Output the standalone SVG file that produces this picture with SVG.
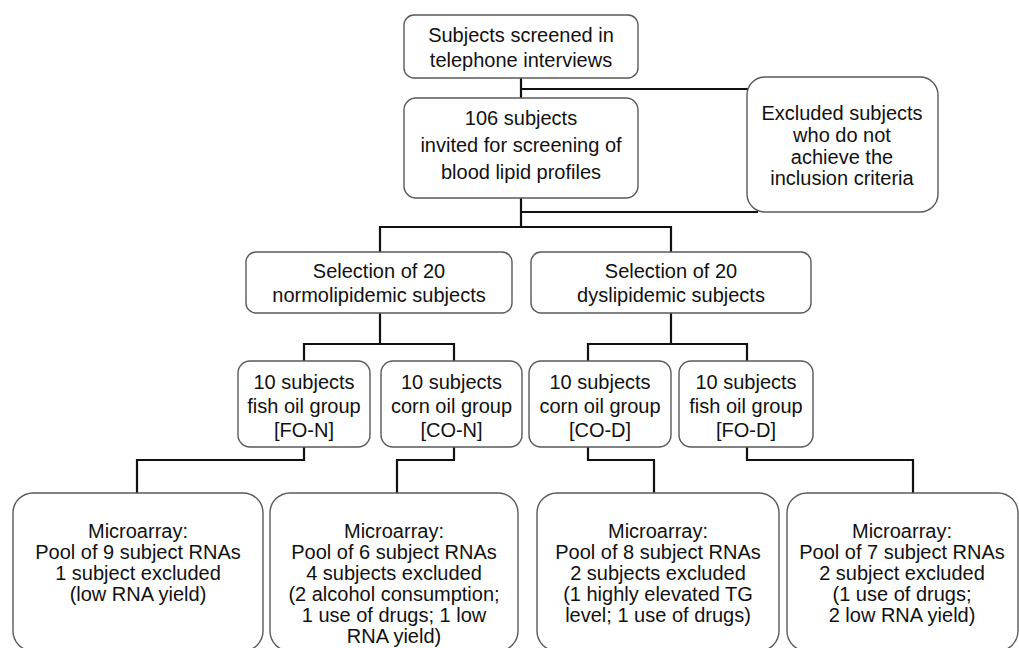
<svg xmlns="http://www.w3.org/2000/svg" width="1019" height="648" viewBox="0 0 1019 648">
<style>
.box{fill:#fff;stroke:#595959;stroke-width:1.4}
.t{font-family:"Liberation Sans",Arial,sans-serif;font-size:20px;fill:#111;text-anchor:middle}
.c{fill:none;stroke:#111;stroke-width:2.2}
</style>
<rect width="1019" height="648" fill="#fff"/>
<g id="connectors">
<path class="c" d="M521 78V227M521 89H748M521 212H758"/>
<path class="c" d="M380 252V227H671V252"/>
<path class="c" d="M380 313V344M304 361V344H454V361"/>
<path class="c" d="M671 313V344M588 361V344H747V361"/>
<path class="c" d="M304 447V460H137V493"/>
<path class="c" d="M454 447V460H397V493"/>
<path class="c" d="M588 447V460H654V493"/>
<path class="c" d="M747 447V460H913V493"/>
</g>
<g id="n_screened">
<rect class="box" x="404" y="15" width="234" height="63" rx="10"/>
<text class="t" x="521" y="42">Subjects screened in</text>
<text class="t" x="521" y="67">telephone interviews</text>
</g>
<g id="n_invited">
<rect class="box" x="404" y="98" width="234" height="100" rx="12"/>
<text class="t" x="521" y="125">106 subjects</text>
<text class="t" x="521" y="152">invited for screening of</text>
<text class="t" x="521" y="179">blood lipid profiles</text>
</g>
<g id="n_excluded">
<rect class="box" x="747" y="77" width="191" height="135" rx="18"/>
<text class="t" x="842" y="120">Excluded subjects</text>
<text class="t" x="842" y="142">who do not</text>
<text class="t" x="842" y="164">achieve the</text>
<text class="t" x="842" y="185">inclusion criteria</text>
</g>
<g id="n_normo">
<rect class="box" x="246" y="252" width="266" height="61" rx="10"/>
<text class="t" x="379" y="278">Selection of 20</text>
<text class="t" x="379" y="302">normolipidemic subjects</text>
</g>
<g id="n_dys">
<rect class="box" x="531" y="252" width="280" height="61" rx="10"/>
<text class="t" x="671" y="278">Selection of 20</text>
<text class="t" x="671" y="302">dyslipidemic subjects</text>
</g>
<g id="n_fon">
<rect class="box" x="238" y="361" width="132" height="86" rx="12"/>
<text class="t" x="304" y="389">10 subjects</text>
<text class="t" x="304" y="413">fish oil group</text>
<text class="t" x="304" y="437">[FO-N]</text>
</g>
<g id="n_con">
<rect class="box" x="381" y="361" width="141" height="86" rx="12"/>
<text class="t" x="451.5" y="389">10 subjects</text>
<text class="t" x="451.5" y="413">corn oil group</text>
<text class="t" x="451.5" y="437">[CO-N]</text>
</g>
<g id="n_cod">
<rect class="box" x="529" y="361" width="142" height="86" rx="12"/>
<text class="t" x="600" y="389">10 subjects</text>
<text class="t" x="600" y="413">corn oil group</text>
<text class="t" x="600" y="437">[CO-D]</text>
</g>
<g id="n_fod">
<rect class="box" x="679" y="361" width="134" height="86" rx="12"/>
<text class="t" x="746" y="389">10 subjects</text>
<text class="t" x="746" y="413">fish oil group</text>
<text class="t" x="746" y="437">[FO-D]</text>
</g>
<g id="n_m1">
<rect class="box" x="13" y="493" width="250" height="158" rx="20"/>
<text class="t" x="138" y="538">Microarray:</text>
<text class="t" x="138" y="559">Pool of 9 subject RNAs</text>
<text class="t" x="138" y="580">1 subject excluded</text>
<text class="t" x="138" y="601">(low RNA yield)</text>
</g>
<g id="n_m2">
<rect class="box" x="270" y="493" width="248" height="158" rx="20"/>
<text class="t" x="394" y="538">Microarray:</text>
<text class="t" x="394" y="559">Pool of 6 subject RNAs</text>
<text class="t" x="394" y="580">4 subjects excluded</text>
<text class="t" x="394" y="601">(2 alcohol consumption;</text>
<text class="t" x="394" y="622">1 use of drugs; 1 low</text>
<text class="t" x="394" y="643">RNA yield)</text>
</g>
<g id="n_m3">
<rect class="box" x="537" y="493" width="242" height="158" rx="20"/>
<text class="t" x="658" y="538">Microarray:</text>
<text class="t" x="658" y="559">Pool of 8 subject RNAs</text>
<text class="t" x="658" y="580">2 subjects excluded</text>
<text class="t" x="658" y="601">(1 highly elevated TG</text>
<text class="t" x="658" y="622">level; 1 use of drugs)</text>
</g>
<g id="n_m4">
<rect class="box" x="787" y="493" width="231" height="158" rx="20"/>
<text class="t" x="902" y="538">Microarray:</text>
<text class="t" x="902" y="559">Pool of 7 subject RNAs</text>
<text class="t" x="902" y="580">2 subject excluded</text>
<text class="t" x="902" y="601">(1 use of drugs;</text>
<text class="t" x="902" y="622">2 low RNA yield)</text>
</g>
</svg>
